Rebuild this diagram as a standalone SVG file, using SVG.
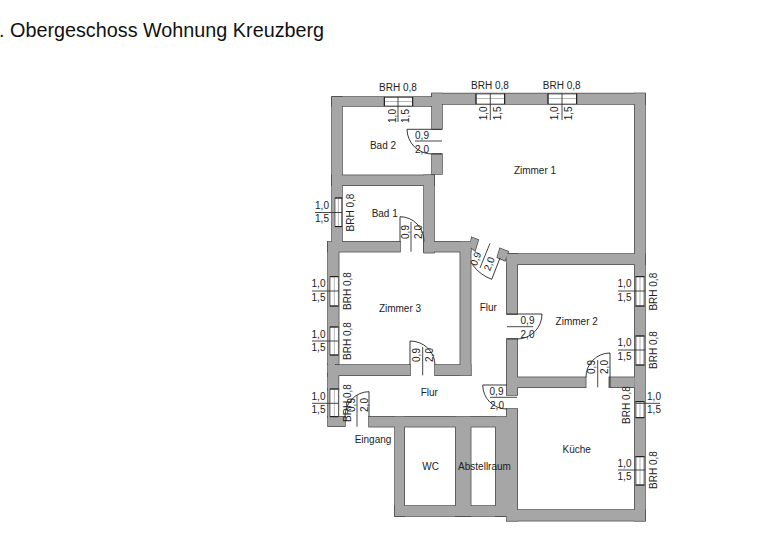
<svg xmlns="http://www.w3.org/2000/svg" width="768" height="560" viewBox="0 0 768 560">
<style>
text{font-family:"Liberation Sans",Arial,sans-serif;font-size:10px;fill:#222}
.m{text-anchor:middle}
.title{font-size:19.8px;fill:#111}
.edge{fill:#a6a6a6;stroke:#444;stroke-width:1.4}
.fill{fill:#a6a6a6;stroke:none}
.win{fill:#fff;stroke:#444;stroke-width:.7}
.mid{fill:none;stroke:#888;stroke-width:.6}
.end{fill:none;stroke:#111;stroke-width:1}
.dim{fill:none;stroke:#333;stroke-width:.9}
.arc{fill:none;stroke:#222;stroke-width:.9}
</style>
<defs>
<g id="walls">
<rect x="332" y="97" width="101" height="9"/>
<rect x="332" y="97" width="10" height="145"/>
<rect x="432" y="93.5" width="213" height="10.5"/>
<rect x="634.7" y="93.5" width="10.3" height="427.2"/>
<rect x="432" y="93.5" width="10" height="35.5"/>
<rect x="432" y="154" width="10" height="20"/>
<rect x="332" y="175.3" width="102" height="10"/>
<rect x="424" y="175.3" width="10" height="77.4"/>
<rect x="328" y="241.7" width="72" height="10"/>
<rect x="424" y="241.7" width="46.7" height="10"/>
<rect x="328" y="241.7" width="10.7" height="122.3"/>
<rect x="460.3" y="241.7" width="10.4" height="133.6"/>
<rect x="333" y="365" width="77" height="10.3"/>
<rect x="435" y="365" width="35.7" height="10.3"/>
<rect x="328" y="364" width="7" height="12"/>
<rect x="328" y="373.5" width="10.5" height="16"/>
<rect x="328" y="389" width="10.5" height="28"/>
<rect x="328" y="416.7" width="17" height="9.5"/>
<rect x="369" y="416.7" width="136" height="10"/>
<rect x="395" y="416.7" width="9.3" height="99.3"/>
<rect x="455.7" y="416.7" width="15" height="99.3"/>
<rect x="495.7" y="416.7" width="11.3" height="99.3"/>
<rect x="395" y="506" width="112" height="10"/>
<rect x="506.7" y="409" width="10.6" height="111.7"/>
<rect x="506.7" y="510" width="138.3" height="10.7"/>
<rect x="506.7" y="254" width="138.3" height="10.3"/>
<rect x="506.7" y="254" width="10.6" height="60"/>
<rect x="506.7" y="339" width="10.6" height="56"/>
<rect x="517" y="377.3" width="68.7" height="10"/>
<rect x="609.3" y="377.3" width="25.4" height="10"/>
<polygon points="471.7,237.3 478.3,240 475,250.7 470,246.7"/>
<polygon points="500,248.3 508.3,251.7 505,260.7 497.3,257.3"/>
</g>
</defs>
<text class="title" x="-1" y="36.7">. Obergeschoss Wohnung Kreuzberg</text>
<g id="plan-walls">
<use href="#walls" class="edge"/>
<use href="#walls" class="fill"/>
</g>
<g id="windows">
<rect class="win" x="384.3" y="97.5" width="28.4" height="8.5"/>
<rect class="win" x="476" y="94" width="28.7" height="10"/>
<rect class="win" x="548" y="94" width="28.7" height="10"/>
<rect class="win" x="335" y="198" width="6.7" height="28.6"/>
<rect class="win" x="330" y="276.7" width="8.3" height="29.3"/>
<rect class="win" x="330" y="327" width="8.3" height="28"/>
<rect class="win" x="330" y="389" width="8.3" height="27.7"/>
<rect class="win" x="636" y="276.7" width="8" height="29.3"/>
<rect class="win" x="636" y="336" width="8" height="29"/>
<rect class="win" x="636" y="401.7" width="8" height="16"/>
<rect class="win" x="636" y="456.7" width="8" height="28.3"/>
<path class="mid" d="M384.3 101.5H412.7M476 98.5H504.7M548 98.5H576.7M338.4 198V226.6M334.3 276.7V306M334.3 327V355M334.3 389V416.7M640 276.7V306M640 336V365M640 401.7V417.7M640 456.7V485"/>
<path class="end" d="M384.3 97V106M412.7 97V106M476 93.5V104M504.7 93.5V104M548 93.5V104M576.7 93.5V104M335 198H342M335 226.6H342M330 276.7H338.5M330 306H338.5M330 327H338.5M330 355H338.5M330 389H338.5M330 416.7H338.5M635.5 276.7H644.5M635.5 306H644.5M635.5 336H644.5M635.5 365H644.5M635.5 401.7H644.5M635.5 417.7H644.5M635.5 456.7H644.5M635.5 485H644.5"/>
</g>
<g id="connectors">
<path class="dim" d="M398 97V122M490.3 93.5V120M562 93.5V120"/>
<path class="dim" d="M315 212.5H342M312 291H338.5M312 341H338.5M312 403.3H338.5"/>
<path class="dim" d="M618 291H645M618 350H645M635.7 403.3H660M618 470H645"/>
<path class="arc" d="M407 129.3H442M407 129.3A25 25 0 0 0 432 154H442"/>
<path class="dim" d="M415 141H442"/>
<path class="arc" d="M400 241.7V216.7A24 24.5 0 0 1 424 241.7"/>
<path class="dim" d="M411 222V251.7"/>
<path class="arc" d="M410 365V341A25 24 0 0 1 435 365"/>
<path class="dim" d="M422.7 347V375.3"/>
<path class="arc" d="M586 377.3A24 24 0 0 1 610 353V387"/>
<path class="dim" d="M597.7 360V387.3"/>
<path class="arc" d="M507 314H542A25 25 0 0 1 517 339H507"/>
<path class="dim" d="M507 326.7H533"/>
<path class="arc" d="M507 385H482.7A24 24 0 0 0 507 409"/>
<path class="dim" d="M490 397.3H517"/>
<path class="arc" d="M345 416.7A24 25 0 0 1 369 391.7V416.7"/>
<path class="dim" d="M357 395V426.7"/>
<path class="arc" d="M472.7 265Q480 275 491.7 279.3L500 258"/>
<path class="dim" d="M490 243.3L480 268"/>
</g>
<g id="dimension-labels">
<text class="m" x="398" y="91.4">BRH 0,8</text>
<text class="m" x="490" y="89">BRH 0,8</text>
<text class="m" x="561.7" y="89">BRH 0,8</text>
<text class="m" transform="translate(396 116) rotate(-90)">1,0</text>
<text class="m" transform="translate(408.5 116) rotate(-90)">1,5</text>
<text class="m" transform="translate(486.7 113.3) rotate(-90)">1,0</text>
<text class="m" transform="translate(500.7 113.3) rotate(-90)">1,5</text>
<text class="m" transform="translate(558.3 113.3) rotate(-90)">1,0</text>
<text class="m" transform="translate(572.3 113.3) rotate(-90)">1,5</text>
<text class="m" x="322" y="208.5">1,0</text><text class="m" x="322" y="222">1,5</text>
<text class="m" transform="translate(354 212.5) rotate(-90)">BRH 0,8</text>
<text class="m" x="318.5" y="287.3">1,0</text><text class="m" x="318.5" y="300.7">1,5</text>
<text class="m" transform="translate(351 291) rotate(-90)">BRH 0,8</text>
<text class="m" x="318.5" y="337.7">1,0</text><text class="m" x="318.5" y="350.7">1,5</text>
<text class="m" transform="translate(351 341) rotate(-90)">BRH 0,8</text>
<text class="m" x="318.5" y="400">1,0</text><text class="m" x="318.5" y="413.3">1,5</text>
<text class="m" transform="translate(351 403) rotate(-90)">BRH 0,8</text>
<text class="m" x="624.5" y="287">1,0</text><text class="m" x="624.5" y="301">1,5</text>
<text class="m" transform="translate(656.7 291.7) rotate(-90)">BRH 0,8</text>
<text class="m" x="624.5" y="346">1,0</text><text class="m" x="624.5" y="360">1,5</text>
<text class="m" transform="translate(656.7 350) rotate(-90)">BRH 0,8</text>
<text class="m" x="654" y="400">1,0</text><text class="m" x="654" y="413.3">1,5</text>
<text class="m" transform="translate(630 405) rotate(-90)">BRH 0,8</text>
<text class="m" x="624.5" y="466.7">1,0</text><text class="m" x="624.5" y="480.3">1,5</text>
<text class="m" transform="translate(656.7 470) rotate(-90)">BRH 0,8</text>
<text class="m" x="422" y="138.5">0,9</text><text class="m" x="422" y="153">2,0</text>
<text class="m" transform="translate(408.5 232) rotate(-90)">0,9</text><text class="m" transform="translate(422 232) rotate(-90)">2,0</text>
<text class="m" transform="translate(420 355) rotate(-90)">0,9</text><text class="m" transform="translate(433 355) rotate(-90)">2,0</text>
<text class="m" transform="translate(594.5 367) rotate(-90)">0,9</text><text class="m" transform="translate(608 367) rotate(-90)">2,0</text>
<text class="m" x="527.5" y="323.5">0,9</text><text class="m" x="527.5" y="338">2,0</text>
<text class="m" x="496.5" y="394.5">0,9</text><text class="m" x="497" y="408.5">2,0</text>
<text class="m" transform="translate(354.5 405) rotate(-90)">0,9</text><text class="m" transform="translate(367.5 405) rotate(-90)">2,0</text>
<text class="m" transform="translate(479 260) rotate(-70)">0,9</text>
<text class="m" transform="translate(492.5 265) rotate(-70)">2,0</text>
</g>
<g id="room-labels">
<text class="m" x="383" y="149">Bad 2</text>
<text class="m" x="535" y="174">Zimmer 1</text>
<text class="m" x="384.7" y="217">Bad 1</text>
<text class="m" x="400" y="312.4">Zimmer 3</text>
<text class="m" x="488.3" y="311">Flur</text>
<text class="m" x="576.7" y="325">Zimmer 2</text>
<text class="m" x="429.3" y="396">Flur</text>
<text class="m" x="576.7" y="453.2">Küche</text>
<text class="m" x="430.7" y="470">WC</text>
<text class="m" x="484.5" y="470.4">Abstellraum</text>
<text class="m" x="373" y="443">Eingang</text>
</g>
</svg>
